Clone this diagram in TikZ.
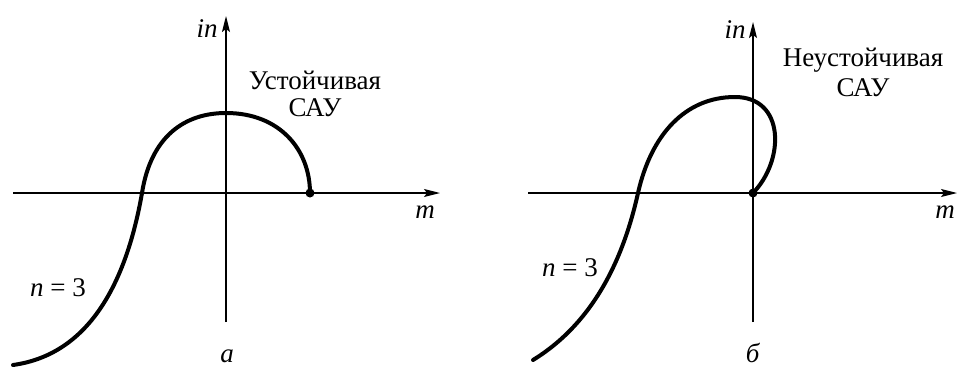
\documentclass[tikz,border=0pt]{standalone}
\usepackage{fontspec}
\setmainfont{Liberation Serif}
\usetikzlibrary{positioning,arrows.meta}

\begin{document}
\begin{tikzpicture}[
  x=1pt, y=-1pt,
  font=\fontsize{27}{30}\selectfont,
  axis/.style={line width=1.4pt, -{Stealth[length=16pt, width=8pt, inset=3pt]}},
  curve/.style={line width=4pt, line cap=round},
  lbl/.style={inner sep=0pt, align=center},
  dot/.style={circle, fill=black, inner sep=0pt, minimum size=9pt}
]
\useasboundingbox (0,0) rectangle (957,367);

% left panel (a)
\coordinate (ha1) at (13, 193);
\coordinate (hb1) at (440, 193);
\coordinate (va1) at (226, 322);
\coordinate (vb1) at (226, 16);
\draw[axis] (ha1) -- (hb1);
\draw[axis] (va1) -- (vb1);

\node[dot] (p1) at (310,193) {};
\draw[curve] (13,365) .. controls (85,355) and (125,290) .. (142,193)
  .. controls (151,136) and (185,113) .. (226,113)
  .. controls (280,113) and (310,150) .. (p1.center);

\node[lbl] (in1) at (207,29) {\textit{in}};
\node[lbl] (m1) at (425,212) {\textit{m}};
\node[lbl] (st1) at (315,80) {Устойчивая};
\node[lbl] (sau1) at (315,108) {САУ};
\node[lbl] (n1) at (58,288) {\textit{n} = 3};
\node[lbl] (a1) at (227,356) {\textit{а}};

% right panel (б)
\coordinate (ha2) at (528, 193);
\coordinate (hb2) at (957, 193);
\coordinate (va2) at (753, 322);
\coordinate (vb2) at (753, 22);
\draw[axis] (ha2) -- (hb2);
\draw[axis] (va2) -- (vb2);

\node[dot] (p2) at (753,193) {};
\draw[curve] (533,360) .. controls (590,325) and (622,265) .. (638,193)
  .. controls (651,135) and (685,97) .. (735,97)
  .. controls (785,97) and (785,160) .. (p2.center);

\node[lbl] (in2) at (735,30) {\textit{in}};
\node[lbl] (m2) at (945,212) {\textit{m}};
\node[lbl] (st2) at (863,60) {Неустойчивая};
\node[lbl] (sau2) at (863,88) {САУ};
\node[lbl] (n2) at (570,268) {\textit{n} = 3};
\node[lbl] (b2) at (753,353) {\textit{б}};
\end{tikzpicture}
\end{document}
